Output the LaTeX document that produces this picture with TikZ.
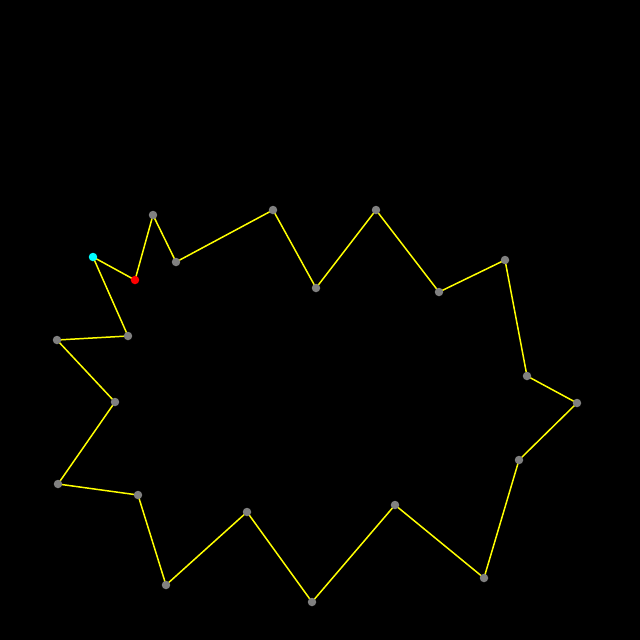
\documentclass[tikz,border=0pt]{standalone}
\usepackage{tikz}
\definecolor{cian}{RGB}{0,255,255}
\definecolor{rojo}{RGB}{255,0,0}
\definecolor{amarillo}{RGB}{255,255,0}
\tikzset{
  lado/.style={draw=amarillo,line width=0.85pt},
  vert/.style={circle,fill=gray,inner sep=0pt,minimum size=0.17cm},
  inicio/.style={vert,fill=cian},
  actual/.style={vert,fill=rojo}
}

\begin{document}
\begin{tikzpicture}[x=0.02cm,y=-0.02cm]
\fill[black] (0,0) rectangle (640,640);
% vertices del poligono
\foreach \i/\x/\y in {1/93/257,2/135/280,3/153/215,4/176/262,5/273/210,6/316/288,
  7/376/210,8/439/292,9/505/260,10/527/376,11/577/403,12/519/460,13/484/578,
  14/395/505,15/312/602,16/247/512,17/166/585,18/138/495,19/58/484,20/115/402,
  21/57/340,22/128/336}
  \coordinate (p\i) at (\x,\y);
\draw[lado] (p1) \foreach \i in {2,...,22} {-- (p\i)} -- cycle;
\foreach \i in {3,...,22}
  \node[vert] (v\i) at (p\i) {};
\node[inicio] (v1) at (p1) {};
\node[actual] (v2) at (p2) {};
\end{tikzpicture}
\end{document}
